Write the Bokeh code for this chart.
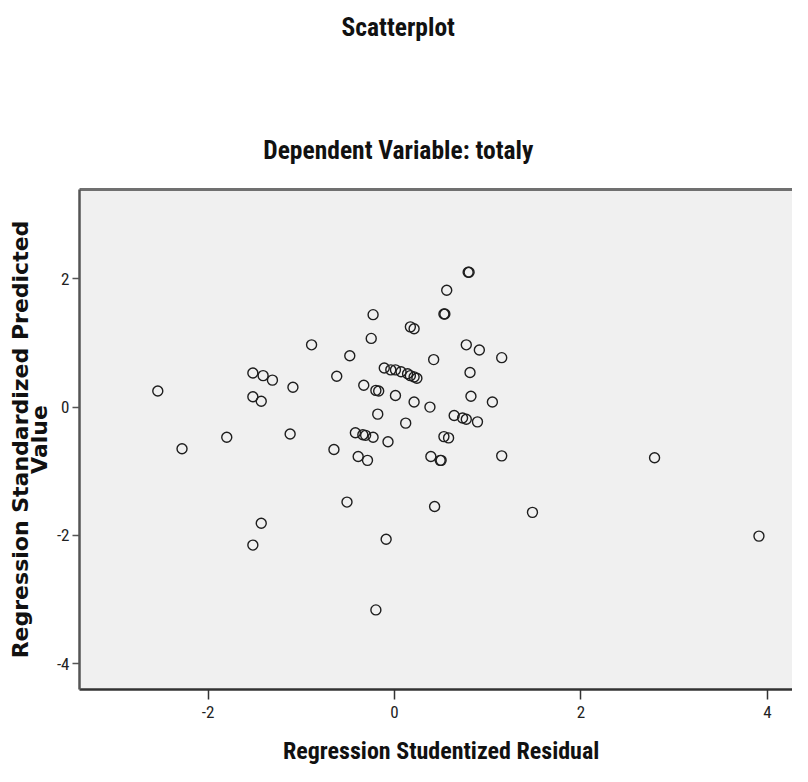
from bokeh.plotting import figure
from bokeh.layouts import column
from bokeh.models import Range1d, FixedTicker, LinearAxis, Label
from bokeh.embed import file_html
from bokeh.resources import INLINE

# Regression Studentized Residual (x) and Regression Standardized Predicted Value (y)
resid = [-2.54, -2.28, -1.80, -1.52, -1.41, -1.31, -1.52, -1.43, -1.09, -1.12,
         -0.89, -0.62, -0.65, -0.48, -0.25, -0.23, -0.33, -0.20, -0.17, -0.18,
         -0.42, -0.34, -0.31, -0.23, -0.07, -0.39, -0.29, -0.51, -1.43, -1.52,
         -0.09, -0.20, -0.11, -0.04, 0.01, 0.07, 0.14, 0.17, 0.21, 0.24,
         0.01, 0.21, 0.38, 0.12, 0.42, 0.17, 0.21, 0.53, 0.54, 0.56,
         0.79, 0.80, 0.77, 0.91, 1.15, 0.81, 0.82, 1.05, 0.64, 0.73,
         0.77, 0.89, 0.53, 0.58, 0.39, 0.49, 0.50, 1.15, 2.79, 0.43,
         1.48, 3.91]
pred = [0.25, -0.65, -0.47, 0.53, 0.49, 0.42, 0.16, 0.09, 0.31, -0.42,
        0.97, 0.48, -0.66, 0.80, 1.07, 1.44, 0.34, 0.26, 0.25, -0.11,
        -0.40, -0.43, -0.44, -0.47, -0.54, -0.77, -0.83, -1.48, -1.81, -2.15,
        -2.06, -3.16, 0.61, 0.58, 0.58, 0.55, 0.52, 0.49, 0.47, 0.45,
        0.18, 0.08, 0.00, -0.25, 0.74, 1.25, 1.22, 1.45, 1.45, 1.82,
        2.10, 2.10, 0.97, 0.89, 0.77, 0.54, 0.17, 0.08, -0.13, -0.17,
        -0.19, -0.23, -0.46, -0.48, -0.77, -0.83, -0.83, -0.76, -0.79, -1.55,
        -1.64, -2.01]

x_ticks = [-2, 0, 2, 4]
x_tick_labels = ["-2", "0", "2", "4"]
y_ticks = [-4, -2, 0, 2]
y_tick_labels = ["-4", "-2", "0", "2"]

title_text = "Scatterplot"
subtitle_text = "Dependent Variable: totaly"
x_label = "Regression Studentized Residual"
y_label = "Regression Standardized Predicted\nValue"

COND = "'Roboto Condensed', 'DejaVu Sans Condensed', sans-serif"
W = 792
TOP_H = 170
BOT_H = 36
MAIN_H = 766 - TOP_H - BOT_H

x_range = Range1d(-3.38, 4.27)

# --- main scatter plot ---
p = figure(width=W, height=MAIN_H, output_backend="svg", toolbar_location=None,
           title=None,
           x_range=x_range, y_range=Range1d(-4.40, 3.39),
           min_border_left=79, min_border_right=0, min_border_top=189 - TOP_H,
           min_border_bottom=(TOP_H + MAIN_H) - 689)
p.background_fill_color = "#f0f0f0"
p.border_fill_color = "white"
p.outline_line_color = None
p.grid.visible = False

xa = p.xaxis[0]
xa.ticker = FixedTicker(ticks=x_ticks)
xa.major_label_overrides = {t: s for t, s in zip(x_ticks, x_tick_labels)}
xa.minor_tick_line_color = None
xa.major_tick_in = 0
xa.major_tick_out = 10
xa.major_tick_line_color = "#333333"
xa.major_tick_line_width = 1.5
xa.axis_line_color = "#333333"
xa.axis_line_width = 2.5
xa.major_label_text_font = COND
xa.major_label_text_font_size = "17px"
xa.major_label_text_color = "#222222"
xa.major_label_standoff = 6

ya = p.yaxis[0]
ya.ticker = FixedTicker(ticks=y_ticks)
ya.major_label_overrides = {t: s for t, s in zip(y_ticks, y_tick_labels)}
ya.minor_tick_line_color = None
ya.major_tick_in = 0
ya.major_tick_out = 7
ya.major_tick_line_color = "#555555"
ya.major_tick_line_width = 1.5
ya.axis_line_color = "#555555"
ya.axis_line_width = 2.5
ya.major_label_text_font = COND
ya.major_label_text_font_size = "17px"
ya.major_label_text_color = "#222222"
ya.major_label_standoff = 3
ya.axis_label = y_label
ya.axis_label_text_font = "DejaVu Sans"
ya.axis_label_text_font_style = "bold"
ya.axis_label_text_font_size = "22px"
ya.axis_label_text_color = "#111111"
ya.axis_label_standoff = 2
ya.axis_label_text_line_height = 0.75

top = LinearAxis(ticker=FixedTicker(ticks=[]), axis_line_color="#707070",
                 axis_line_width=3, major_tick_line_color=None,
                 minor_tick_line_color=None, major_label_text_font_size="0px")
p.add_layout(top, "above")

p.scatter(resid, pred, marker="circle", size=10, fill_color=None,
          line_color="#1e1e1e", line_width=1.4)


def text_strip(height):
    # shares the scatter plot's x scale; y measured in pixels from the top
    f = figure(width=W, height=height, output_backend="svg",
               toolbar_location=None, title=None,
               x_axis_type=None, y_axis_type=None,
               x_range=x_range, y_range=Range1d(height, 0),
               min_border=0, min_border_left=79, min_border_right=0)
    f.outline_line_color = None
    f.background_fill_color = "white"
    f.border_fill_color = "white"
    f.grid.visible = False
    return f


def add_text(f, txt, x, y, size):
    f.add_layout(Label(x=x, y=y, text=txt, text_align="center",
                       text_baseline="alphabetic", text_font=COND,
                       text_font_size=size, text_font_style="bold",
                       text_color="#111111"))


# --- titles strip ---
tf = text_strip(TOP_H)
add_text(tf, title_text, 0.04, 26, "25.5px")
add_text(tf, subtitle_text, 0.04, 149, "25.5px")

# --- x-axis title strip ---
bf = text_strip(BOT_H)
add_text(bf, x_label, 0.50, 20, "24px")

layout = column(tf, p, bf, spacing=0)

open("out.html", "w").write(file_html(layout, INLINE))
